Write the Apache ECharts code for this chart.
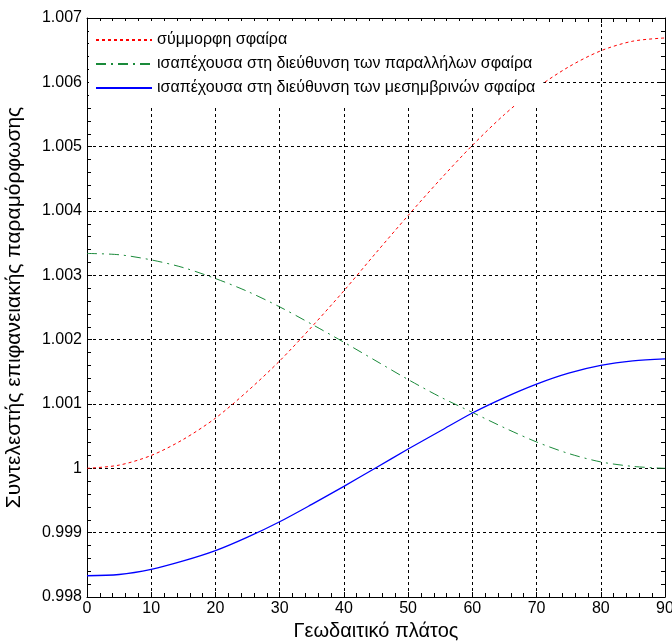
<!DOCTYPE html>
<html>
<head>
<meta charset="utf-8">
<script src="https://cdn.jsdelivr.net/npm/echarts@6/dist/echarts.min.js"></script>
<style>
  html, body { margin: 0; padding: 0; background: #fff; }
  #chart { width: 672px; height: 642px; }
</style>
</head>
<body>
<div id="chart"></div>
<script>
// Geodetic latitude (degrees)
const latitude = [0, 5, 10, 15, 20, 25, 30, 35, 40, 45, 50, 55, 60, 65, 70, 75, 80, 85, 90];

// Scale (distortion) factor of each auxiliary sphere
const conformalSphere = [1.00000, 1.00005, 1.00020, 1.00045, 1.00078, 1.00120, 1.00167, 1.00220, 1.00276,
  1.00335, 1.00393, 1.00449, 1.00502, 1.00550, 1.00591, 1.00624, 1.00649, 1.00664, 1.00669];
const equidistParallels = [1.00334, 1.00332, 1.00324, 1.00312, 1.00295, 1.00275, 1.00251, 1.00224, 1.00196,
  1.00167, 1.00138, 1.00111, 1.00087, 1.00063, 1.00041, 1.00023, 1.00010, 1.00003, 1.00000];
const equidistMeridians = [0.99833, 0.99835, 0.99843, 0.99856, 0.99872, 0.99893, 0.99917, 0.99944, 0.99972,
  1.00001, 1.00030, 1.00058, 1.00086, 1.00110, 1.00131, 1.00148, 1.00160, 1.00167, 1.00170];

const seriesNames = [
  'σύμμορφη σφαίρα',
  'ισαπέχουσα στη διεύθυνση των παραλλήλων σφαίρα',
  'ισαπέχουσα στη διεύθυνση των μεσημβρινών σφαίρα'
];

const xTicks = { min: 0, max: 90, step: 10 };
const yTicks = { min: 0.998, max: 1.007, step: 0.001 };

const FONT = 'Liberation Sans, Arial, sans-serif';

const pairs = arr => latitude.map((x, i) => [x, arr[i]]);

const boxAxisLine = { show: true, onZero: false, lineStyle: { color: '#000', width: 1 } };
const inTick = { show: true, inside: true, length: 5, lineStyle: { color: '#000' } };
const inMinor = { show: true, splitNumber: 5, length: 4, lineStyle: { color: '#000' } };
const gridDash = { show: true, lineStyle: { color: '#000', width: 1, type: [3, 3] } };

const chart = echarts.init(document.getElementById('chart'), null, { renderer: 'canvas' });

chart.setOption({
  animation: false,
  backgroundColor: '#fff',
  textStyle: { fontFamily: FONT },
  grid: { left: 87, right: 7, top: 18, bottom: 45, containLabel: false, outerBoundsMode: 'none' },
  legend: {
    orient: 'vertical',
    left: 89,
    top: 21,
    padding: [11, 8, 10, 6],
    backgroundColor: '#fff',
    itemWidth: 56,
    itemHeight: 14,
    itemGap: 8,
    itemStyle: { opacity: 0 },
    textStyle: { fontSize: 16, lineHeight: 16, color: '#000', fontFamily: FONT },
    data: seriesNames
  },
  xAxis: [
    {
      type: 'value', position: 'bottom',
      min: xTicks.min, max: xTicks.max, interval: xTicks.step,
      name: 'Γεωδαιτικό πλάτος', nameLocation: 'middle', nameGap: 24,
      nameTextStyle: { fontSize: 20, color: '#000', fontFamily: FONT },
      axisLine: boxAxisLine, axisTick: inTick, minorTick: inMinor,
      axisLabel: { color: '#000', fontSize: 16, margin: 4, fontFamily: FONT },
      splitLine: gridDash
    },
    {
      type: 'value', position: 'top',
      min: xTicks.min, max: xTicks.max, interval: xTicks.step,
      axisLine: boxAxisLine, axisTick: inTick, minorTick: inMinor,
      axisLabel: { show: false }, splitLine: { show: false }
    }
  ],
  yAxis: [
    {
      type: 'value', position: 'left',
      min: yTicks.min, max: yTicks.max, interval: yTicks.step,
      name: 'Συντελεστής επιφανειακής παραμόρφωσης', nameLocation: 'middle', nameGap: 62,
      nameTextStyle: { fontSize: 21, color: '#000', fontFamily: FONT },
      axisLine: boxAxisLine, axisTick: inTick, minorTick: inMinor,
      axisLabel: {
        color: '#000', fontSize: 16, margin: 5, fontFamily: FONT,
        formatter: v => String(Math.round(v * 1000) / 1000)
      },
      splitLine: gridDash
    },
    {
      type: 'value', position: 'right',
      min: yTicks.min, max: yTicks.max, interval: yTicks.step,
      axisLine: boxAxisLine, axisTick: inTick, minorTick: inMinor,
      axisLabel: { show: false }, splitLine: { show: false }
    }
  ],
  series: [
    {
      name: seriesNames[0], type: 'line', data: pairs(conformalSphere),
      showSymbol: false, symbol: 'none', smooth: 0.3,
      color: '#ff0000',
      lineStyle: { color: '#ff0000', width: 1, type: [3, 3] }
    },
    {
      name: seriesNames[1], type: 'line', data: pairs(equidistParallels),
      showSymbol: false, symbol: 'none', smooth: 0.3,
      color: '#1a8a3a',
      lineStyle: { color: '#1a8a3a', width: 1, type: [10, 5, 2, 5] }
    },
    {
      name: seriesNames[2], type: 'line', data: pairs(equidistMeridians),
      showSymbol: false, symbol: 'none', smooth: 0.3,
      color: '#0000ff',
      lineStyle: { color: '#0000ff', width: 1.3, type: 'solid' }
    }
  ]
});
</script>
</body>
</html>
